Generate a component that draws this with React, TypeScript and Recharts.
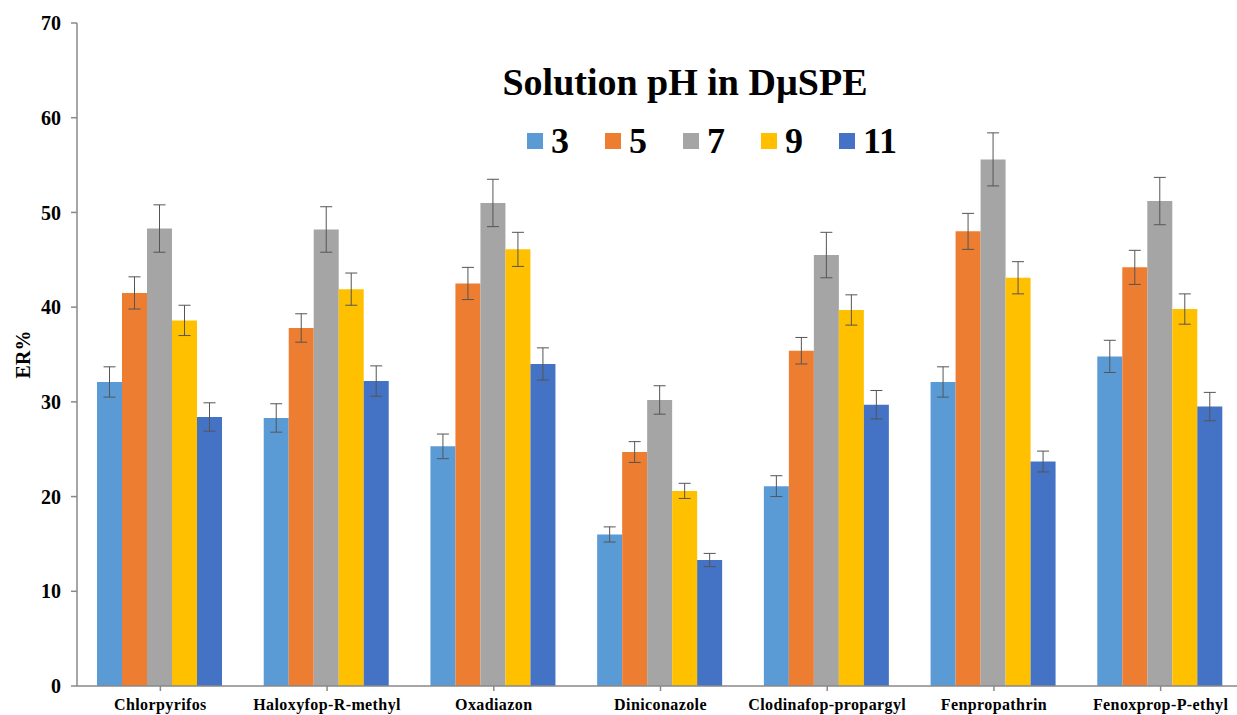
import React from 'react';
import { BarChart, Bar, XAxis, YAxis, Legend, ErrorBar } from 'recharts';

const categories = [
  'Chlorpyrifos',
  'Haloxyfop-R-methyl',
  'Oxadiazon',
  'Diniconazole',
  'Clodinafop-propargyl',
  'Fenpropathrin',
  'Fenoxprop-P-ethyl',
];

const ph3 = [32.1, 28.3, 25.3, 16.0, 21.1, 32.1, 34.8];
const ph5 = [41.5, 37.8, 42.5, 24.7, 35.4, 48.0, 44.2];
const ph7 = [48.3, 48.2, 51.0, 30.2, 45.5, 55.6, 51.2];
const ph9 = [38.6, 41.9, 46.1, 20.6, 39.7, 43.1, 39.8];
const ph11 = [28.4, 32.2, 34.0, 13.3, 29.7, 23.7, 29.5];

const err3 = [1.6, 1.5, 1.3, 0.8, 1.1, 1.6, 1.7];
const err5 = [1.7, 1.5, 1.7, 1.1, 1.4, 1.9, 1.8];
const err7 = [2.5, 2.4, 2.5, 1.5, 2.4, 2.8, 2.5];
const err9 = [1.6, 1.7, 1.8, 0.8, 1.6, 1.7, 1.6];
const err11 = [1.5, 1.6, 1.7, 0.7, 1.5, 1.1, 1.5];

const yTicks = [0, 10, 20, 30, 40, 50, 60, 70];

const series = [
  { key: 'p3', name: '3', color: '#5B9BD5', values: ph3, errs: err3 },
  { key: 'p5', name: '5', color: '#ED7D31', values: ph5, errs: err5 },
  { key: 'p7', name: '7', color: '#A5A5A5', values: ph7, errs: err7 },
  { key: 'p9', name: '9', color: '#FFC000', values: ph9, errs: err9 },
  { key: 'p11', name: '11', color: '#4472C4', values: ph11, errs: err11 },
];

const data = categories.map((name, i) => {
  const row: any = { name };
  series.forEach((s) => {
    row[s.key] = s.values[i];
    row[s.key + 'Err'] = s.errs[i];
  });
  return row;
});

const FONT = "'Liberation Serif', 'Times New Roman', serif";
const AXIS = '#898989';

// title + legend row, placed like the original figure
function TitleLegend() {
  return (
    <div style={{ position: 'relative', width: 1237, height: 170, fontFamily: FONT, fontWeight: 'bold', color: '#000' }}>
      <div style={{ position: 'absolute', left: 485, top: 63, width: 400, fontSize: 38, lineHeight: '38px', textAlign: 'center', whiteSpace: 'nowrap' }}>
        Solution pH in DµSPE
      </div>
      <div style={{ position: 'absolute', left: 527, top: 123, display: 'flex', alignItems: 'center' }}>
        {series.map((s, i) => (
          <div key={s.key} style={{ display: 'flex', alignItems: 'center', marginLeft: i === 0 ? 0 : 36 }}>
            <span style={{ width: 16, height: 16, background: s.color, display: 'inline-block', marginRight: 8 }} />
            <span style={{ fontSize: 36, lineHeight: '36px' }}>{s.name}</span>
          </div>
        ))}
      </div>
    </div>
  );
}

export default function App() {
  return (
    <div style={{ position: 'fixed', left: 0, top: 0, width: 1237, height: 715, overflow: 'hidden', background: '#fff' }}>
      <BarChart
        width={1244}
        height={715}
        data={data}
        margin={{ top: 23, right: 0, bottom: 0, left: 0 }}
        barCategoryGap="12%"
        barGap={0}
      >
        <XAxis
          dataKey="name"
          height={29}
          stroke={AXIS}
          strokeWidth={1.5}
          tickSize={5}
          tickMargin={8}
          interval={0}
          tick={{ fill: '#000', fontSize: 16, fontWeight: 'bold', fontFamily: FONT, letterSpacing: 0.4 }}
        />
        <YAxis
          width={77}
          domain={[0, 70]}
          ticks={yTicks}
          stroke={AXIS}
          strokeWidth={1.5}
          tickSize={6}
          tickMargin={10}
          tick={{ fill: '#000', fontSize: 20, fontWeight: 'bold', fontFamily: FONT }}
          label={{
            value: 'ER%',
            angle: -90,
            position: 'insideLeft',
            offset: 23,
            style: { fill: '#000', fontSize: 20, fontWeight: 'bold', fontFamily: FONT, textAnchor: 'middle' },
          }}
        />
        <Legend
          layout="vertical"
          align="center"
          verticalAlign="middle"
          content={() => <TitleLegend />}
          wrapperStyle={{ top: 0, left: 0, width: 1237, height: 170 }}
        />
        {series.map((s) => (
          <Bar key={s.key} dataKey={s.key} name={s.name} fill={s.color} isAnimationActive={false}>
            <ErrorBar dataKey={s.key + 'Err'} width={6} stroke="#555" strokeWidth={1} isAnimationActive={false} />
          </Bar>
        ))}
      </BarChart>
    </div>
  );
}
